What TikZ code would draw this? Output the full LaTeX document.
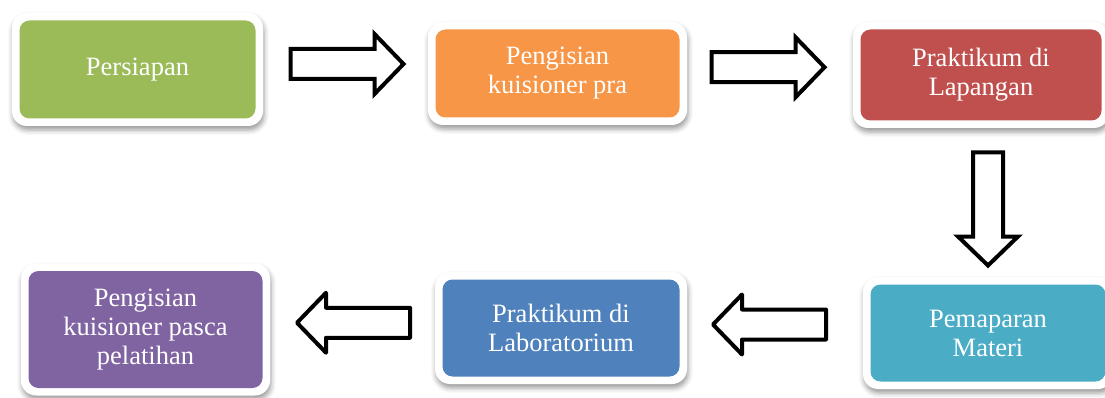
\documentclass[tikz,border=0pt]{standalone}
\usepackage{fontspec}
\setmainfont{Liberation Serif}
\usepackage{tikz}
\usetikzlibrary{positioning,calc,shadows.blur}
\definecolor{stepgreen}{HTML}{9BBB59}
\definecolor{steporange}{HTML}{F79646}
\definecolor{stepred}{HTML}{C0504D}
\definecolor{stepaqua}{HTML}{4BACC6}
\definecolor{stepblue}{HTML}{4F81BD}
\definecolor{steppurple}{HTML}{8064A2}
\tikzset{
  stepbox/.style={rectangle, rounded corners=15pt, fill=white, draw=none,
    text=white, inner sep=0pt, align=center,
    font=\fontsize{26.5}{29}\selectfont,
    blur shadow={shadow xshift=1pt, shadow yshift=-4pt,
      shadow blur radius=5pt, shadow opacity=40},
    path picture={\fill[#1, rounded corners=10pt]
      ([shift={(7.5pt,-7.5pt)}]path picture bounding box.north west) rectangle
      ([shift={(-7.5pt,7.5pt)}]path picture bounding box.south east);}},
  flowline/.style={draw=black, fill=white, line width=4pt},
}
\newcommand{\flowarrow}[2]{%
  \begin{scope}[shift={#2}, #1]
    \draw[flowline] (-56,-15) -- (28,-15) -- (28,-30) -- (57,0)
      -- (28,30) -- (28,15) -- (-56,15) -- cycle;
  \end{scope}
}

\begin{document}
\begin{tikzpicture}[x=1pt, y=-1pt]
\useasboundingbox (0,0) rectangle (1105,398);

%% top row
\node[stepbox=stepgreen, minimum width=251pt, minimum height=113pt]
  (persiapan) at (137.5, 69.5) {Persiapan};
\node[stepbox=steporange, minimum width=259pt, minimum height=103pt]
  (kuispra) at (557.5, 73.5) {Pengisian\\kuisioner pra};
\node[stepbox=stepred, minimum width=256pt, minimum height=106pt]
  (lapangan) at (981, 75) {Praktikum di\\Lapangan};

%% bottom row
\node[stepbox=stepaqua, minimum width=250pt, minimum height=112pt]
  (materi) at (988, 333) {Pemaparan\\Materi};
\node[stepbox=stepblue, minimum width=252pt, minimum height=112pt]
  (lab) at (561, 328) {Praktikum di\\Laboratorium};
\node[stepbox=steppurple, minimum width=249pt, minimum height=132pt]
  (pasca) at (145.5, 329.5) {Pengisian\\kuisioner pasca\\pelatihan};

%% block arrows
\flowarrow{}{($(persiapan.east)!0.5!(kuispra.west)+(1,-7.5)$)}
\flowarrow{}{($(kuispra.east)!0.5!(lapangan.west)+(-2.5,-7)$)}
\flowarrow{rotate=-90}{($(lapangan.south)!0.5!(materi.north)+(3.5,6)$)}
\flowarrow{rotate=180, line join=round}{($(materi.west)!0.5!(lab.east)+(-5,-6)$)}
\flowarrow{rotate=180, line join=round}{($(lab.west)!0.5!(pasca.east)+(1.5,-6)$)}
\end{tikzpicture}
\end{document}
